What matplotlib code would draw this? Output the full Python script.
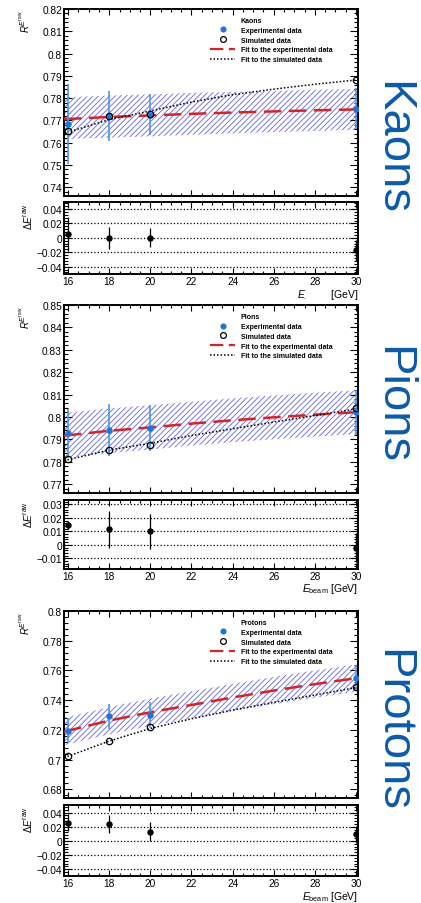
import numpy as np
import matplotlib
matplotlib.use("Agg")
import matplotlib.pyplot as plt
from matplotlib.lines import Line2D
from matplotlib.ticker import MultipleLocator, FuncFormatter

# ------------------------------------------------------------------
# Data
# ------------------------------------------------------------------
e_beam = [16, 18, 20, 30]
fit_x = [15.8, 16, 18, 20, 22, 24, 26, 28, 30, 30.1]

kaon_exp = [0.7684, 0.7718, 0.7725, 0.7752]
kaon_exp_err = [0.0181, 0.0112, 0.0093, 0.0091]
kaon_sim = [0.7650, 0.7718, 0.7730, 0.7880]
kaon_fit_exp = [0.7705, 0.7706, 0.7715, 0.7722, 0.7729, 0.7735, 0.7740, 0.7745, 0.7749, 0.7750]
kaon_band_hi = [0.7803, 0.7804, 0.7811, 0.7817, 0.7823, 0.7828, 0.7832, 0.7837, 0.7841, 0.7842]
kaon_band_lo = [0.7614, 0.7616, 0.7622, 0.7628, 0.7635, 0.7641, 0.7647, 0.7652, 0.7657, 0.7658]
kaon_fit_sim = [0.7640, 0.7647, 0.7703, 0.7742, 0.7782, 0.7815, 0.7840, 0.7862, 0.7881, 0.7882]
kaon_diff = [0.0050, 0.0000, 0.0000, -0.0175]
kaon_diff_err = [0.0235, 0.0150, 0.0130, 0.0140]

pion_exp = [0.7927, 0.7942, 0.7950, 0.8020]
pion_exp_err = [0.0110, 0.0117, 0.0103, 0.0099]
pion_sim = [0.7813, 0.7854, 0.7875, 0.8038]
pion_fit_exp = [0.7916, 0.7918, 0.7938, 0.7953, 0.7970, 0.7985, 0.7998, 0.8010, 0.8021, 0.8022]
pion_band_hi = [0.8017, 0.8019, 0.8038, 0.8052, 0.8068, 0.8083, 0.8096, 0.8108, 0.8119, 0.8120]
pion_band_lo = [0.7815, 0.7817, 0.7838, 0.7854, 0.7872, 0.7887, 0.7900, 0.7912, 0.7923, 0.7924]
pion_fit_sim = [0.7805, 0.7809, 0.7852, 0.7882, 0.7917, 0.7947, 0.7977, 0.8006, 0.8036, 0.8038]
pion_diff = [0.0148, 0.0115, 0.0100, -0.0020]
pion_diff_err = [0.0030, 0.0135, 0.0130, 0.0105]

proton_exp = [0.7196, 0.7292, 0.7303, 0.7551]
proton_exp_err = [0.0085, 0.0084, 0.0088, 0.0084]
proton_sim = [0.7024, 0.7128, 0.7218, 0.7486]
proton_fit_exp = [0.7189, 0.7195, 0.7263, 0.7319, 0.7368, 0.7418, 0.7465, 0.7508, 0.7548, 0.7550]
proton_band_hi = [0.7281, 0.7287, 0.7355, 0.7411, 0.7460, 0.7510, 0.7557, 0.7600, 0.7640, 0.7642]
proton_band_lo = [0.7097, 0.7103, 0.7171, 0.7227, 0.7276, 0.7326, 0.7373, 0.7416, 0.7456, 0.7458]
proton_fit_sim = [0.7017, 0.7023, 0.7125, 0.7210, 0.7275, 0.7333, 0.7385, 0.7435, 0.7485, 0.7488]
proton_diff = [0.0259, 0.0236, 0.0132, 0.0096]
proton_diff_err = [0.0125, 0.0127, 0.0130, 0.0118]

particles = ["Kaons", "Pions", "Protons"]

# ------------------------------------------------------------------
# Style
# ------------------------------------------------------------------
plt.rcParams["font.family"] = ["Liberation Sans", "DejaVu Sans"]
plt.rcParams["mathtext.fontset"] = "custom"
plt.rcParams["mathtext.rm"] = "Liberation Sans"
plt.rcParams["mathtext.it"] = "Liberation Sans:italic"
plt.rcParams["hatch.linewidth"] = 0.6

exp_col = "#1f74d6"
err_col = "#4c96e6"
band_col = "#6464ea"
fit_col = "#d42424"
side_col = "#0d5aa7"

W = 421
H = 904
left = 64 / W
width = 294 / W


def rect(top, bottom):
    return [left, 1 - bottom / H, width, (bottom - top) / H]


def root_fmt(v, pos):
    s = "%g" % round(v, 5)
    if s in ("-0", "0"):
        return "0"
    return s.replace("-", "\u2212")


# pixel edges of the six pads
pads = [
    ((10, 197), (203, 275)),
    ((306, 494), (501, 570)),
    ((612, 799), (806, 877)),
]
top_ylims = [(0.736, 0.82), (0.766, 0.85), (0.6742, 0.80)]
top_major = [0.01, 0.01, 0.02]
top_minor = [0.002, 0.002, 0.004]
low_ylims = [(-0.0502, 0.0498), (-0.0179, 0.0332), (-0.0494, 0.0507)]
low_major = [0.02, 0.01, 0.02]
low_minor = [0.004, 0.002, 0.004]
side_y = [148, 405, 731]

sets = [
    (kaon_exp, kaon_exp_err, kaon_sim, kaon_fit_exp, kaon_band_hi, kaon_band_lo,
     kaon_fit_sim, kaon_diff, kaon_diff_err),
    (pion_exp, pion_exp_err, pion_sim, pion_fit_exp, pion_band_hi, pion_band_lo,
     pion_fit_sim, pion_diff, pion_diff_err),
    (proton_exp, proton_exp_err, proton_sim, proton_fit_exp, proton_band_hi,
     proton_band_lo, proton_fit_sim, proton_diff, proton_diff_err),
]


def style_axis(ax, ymaj, ymin):
    ax.set_xlim(15.8, 30.1)
    ax.xaxis.set_major_locator(MultipleLocator(2))
    ax.xaxis.set_minor_locator(MultipleLocator(0.5))
    ax.yaxis.set_major_locator(MultipleLocator(ymaj))
    ax.yaxis.set_minor_locator(MultipleLocator(ymin))
    ax.xaxis.set_major_formatter(FuncFormatter(root_fmt))
    ax.yaxis.set_major_formatter(FuncFormatter(root_fmt))
    ax.tick_params(which="both", direction="in", top=True, right=True,
                   labelsize=7.3, pad=1.5, width=0.8)
    ax.tick_params(axis="y", which="major", length=6)
    ax.tick_params(axis="y", which="minor", length=3)
    ax.tick_params(axis="x", which="major", length=4.5)
    ax.tick_params(axis="x", which="minor", length=2.2)
    for sp in ax.spines.values():
        sp.set_linewidth(1.4)


fig = plt.figure(figsize=(W / 100, H / 100), dpi=100)

for i, name in enumerate(particles):
    (exp, exp_err, sim, fit_exp, band_hi, band_lo, fit_sim, diff, diff_err) = sets[i]
    (t0, b0), (t1, b1) = pads[i]

    # ---------------- upper pad ----------------
    ax = fig.add_axes(rect(t0, b0))
    ax.fill_between(fit_x, band_lo, band_hi, facecolor="none", edgecolor=band_col,
                    hatch="//////", linewidth=0, zorder=1)
    ax.plot(fit_x, fit_exp, color=fit_col, lw=1.8, dashes=(7, 3), zorder=3)
    ax.plot(fit_x, fit_sim, color="k", lw=1.1, dashes=(1, 1.3), zorder=3)
    ax.errorbar(e_beam, exp, yerr=exp_err, fmt="o", ms=3.6, color=exp_col,
                ecolor=err_col, elinewidth=1.2, capsize=0, zorder=4)
    ax.plot(e_beam, sim, "o", ms=4.6, mfc="none", mec="k", mew=0.9, zorder=5)
    style_axis(ax, top_major[i], top_minor[i])
    ax.set_ylim(*top_ylims[i])
    ax.tick_params(labelbottom=False)
    ax.set_ylabel(r"$R^{E^{\mathrm{raw}}}$", fontsize=7, loc="top")
    ax.yaxis.set_label_coords(-0.11, 1.0)

    handles = [
        Line2D([], [], linestyle="none"),
        Line2D([], [], linestyle="none", marker="o", ms=3.4, color=exp_col),
        Line2D([], [], linestyle="none", marker="o", ms=4.2, mfc="none", mec="k", mew=0.9),
        Line2D([], [], color=fit_col, lw=1.6, dashes=(6, 2.5)),
        Line2D([], [], color="k", lw=1.1, dashes=(1, 1.3)),
    ]
    labels = [name, "Experimental data", "Simulated data",
              "Fit to the experimental data", "Fit to the simulated data"]
    ax.legend(handles, labels, loc="upper left", bbox_to_anchor=(0.485, 0.975),
              frameon=False, prop={"size": 5, "weight": "bold"}, borderpad=0,
              handlelength=3.6, handletextpad=0.8, labelspacing=0.4)

    # ---------------- lower pad ----------------
    axl = fig.add_axes(rect(t1, b1))
    axl.errorbar(e_beam, diff, yerr=diff_err, fmt="o", ms=3.6, color="k",
                 elinewidth=0.9, capsize=0, zorder=4)
    style_axis(axl, low_major[i], low_minor[i])
    axl.set_ylim(*low_ylims[i])
    axl.yaxis.grid(True, which="major", linestyle=":", color="k", lw=0.9)
    axl.set_ylabel(r"$\Delta E^{\mathrm{raw}}$", fontsize=7, loc="top")
    axl.yaxis.set_label_coords(-0.10, 1.0)
    if i == 0:
        xlab = r"$E_{.}$        [GeV]"
    else:
        xlab = r"$E_{\mathrm{beam}}$ [GeV]"
    axl.set_xlabel(xlab, fontsize=7.5, loc="right")
    axl.xaxis.set_label_coords(1.0, -0.18)

    fig.text(392 / W, 1 - side_y[i] / H, name, rotation=-90, fontsize=34,
             color=side_col, ha="center", va="center")

fig.savefig("out.png", dpi=100)
